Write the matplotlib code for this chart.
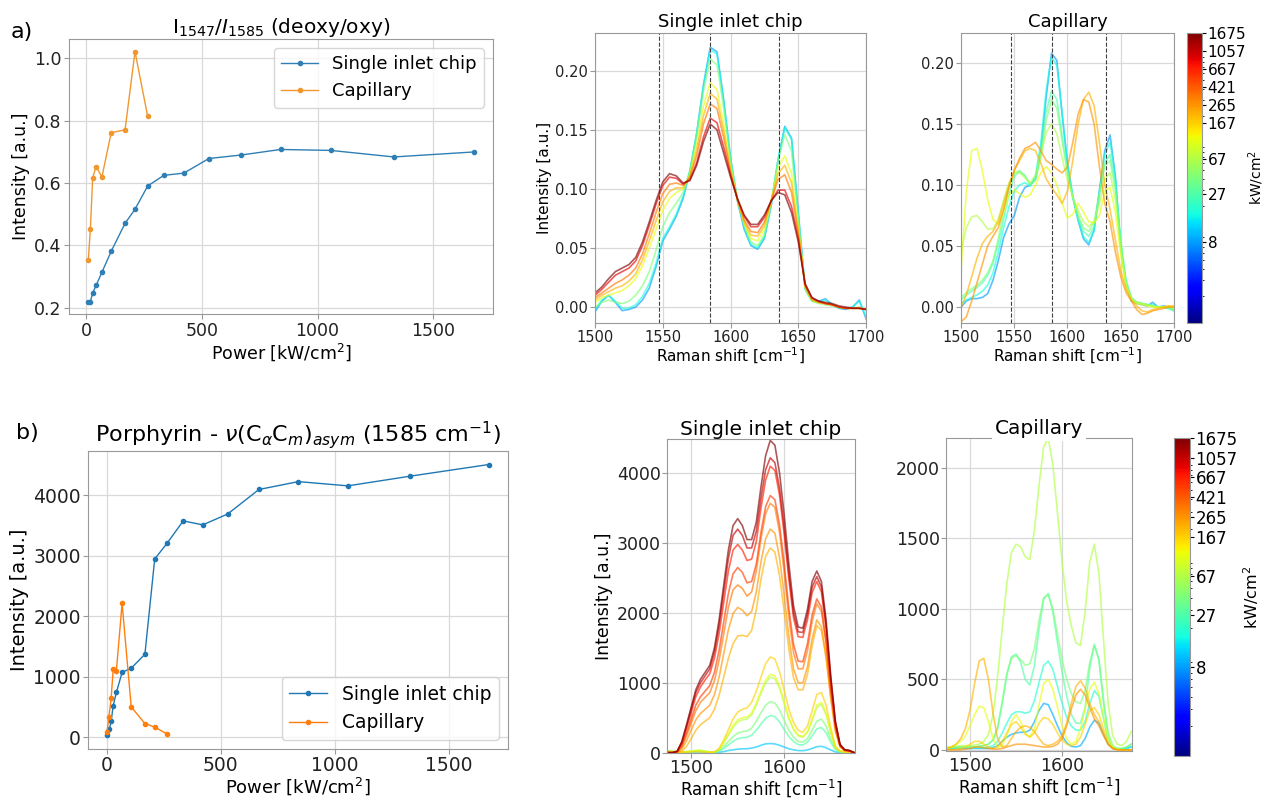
import matplotlib.pyplot as plt
import numpy as np
from matplotlib.colors import LogNorm
from matplotlib.cm import ScalarMappable
from matplotlib.ticker import NullFormatter

# ---------------- a) band ratio vs power ----------------
ratio_power_chip = [8, 17, 27, 42, 67, 107, 167, 210, 265, 335, 421, 530, 667, 840, 1057, 1330, 1675]
ratio_chip = [0.220, 0.220, 0.248, 0.272, 0.314, 0.381, 0.471, 0.516, 0.591, 0.625,
              0.632, 0.679, 0.690, 0.708, 0.705, 0.684, 0.700]
ratio_power_cap = [8, 17, 27, 42, 67, 107, 167, 210, 265]
ratio_cap = [0.352, 0.454, 0.618, 0.653, 0.620, 0.762, 0.771, 1.022, 0.814]

# ---------------- b) 1585 band intensity vs power ----------------
int_power_chip = [2, 11, 19, 28, 42, 67, 107, 167, 210, 265, 335, 421, 530, 667, 840, 1057, 1330, 1675]
int_chip = [28, 130, 260, 520, 740, 1070, 1140, 1370, 2945, 3210, 3575, 3510, 3690, 4095,
            4225, 4155, 4315, 4508]
int_power_cap = [1, 9, 19, 28, 42, 67, 107, 167, 210, 265]
int_cap = [90, 330, 640, 1120, 1100, 2210, 500, 225, 165, 50]

# ---------------- normalised spectra (top row), 1500..1700 step 5 ----------------
shift_top = np.arange(1500, 1701, 5)
marker_lines = [1547, 1585, 1636]

nchip_8 = [-0.004, 0.005, 0.010, 0.004, -0.003, -0.002, 0.000, 0.006, 0.016, 0.034,
           0.056, 0.066, 0.077, 0.092, 0.115, 0.147, 0.188, 0.220, 0.216, 0.175,
           0.126, 0.090, 0.066, 0.052, 0.049, 0.058, 0.086, 0.124, 0.153, 0.143,
           0.080, 0.016, 0.006, 0.005, 0.007, 0.002, -0.001, -0.002, 0.000, 0.006,
           -0.010]
nchip_17 = [-0.002, 0.006, 0.010, 0.005, -0.001, -0.001, 0.002, 0.009, 0.020, 0.037,
            0.058, 0.068, 0.079, 0.094, 0.116, 0.147, 0.187, 0.218, 0.214, 0.173,
            0.125, 0.091, 0.068, 0.053, 0.050, 0.060, 0.088, 0.125, 0.152, 0.142,
            0.078, 0.015, 0.005, 0.004, 0.006, 0.002, -0.001, -0.001, 0.000, 0.005,
            -0.008]
nchip_42 = [0.000, 0.004, 0.006, 0.004, 0.003, 0.005, 0.010, 0.018, 0.030, 0.048,
            0.068, 0.080, 0.088, 0.097, 0.115, 0.145, 0.183, 0.210, 0.205, 0.168,
            0.124, 0.092, 0.070, 0.055, 0.052, 0.061, 0.088, 0.124, 0.146, 0.132,
            0.075, 0.015, 0.005, 0.003, 0.002, 0.001, 0.000, -0.001, -0.001, 0.000,
            -0.002]
nchip_107 = [0.004, 0.008, 0.010, 0.012, 0.014, 0.018, 0.024, 0.035, 0.050, 0.066,
             0.082, 0.092, 0.097, 0.100, 0.112, 0.138, 0.170, 0.190, 0.184, 0.155,
             0.118, 0.091, 0.071, 0.058, 0.056, 0.066, 0.090, 0.118, 0.128, 0.113,
             0.068, 0.017, 0.006, 0.004, 0.003, 0.002, 0.000, -0.001, -0.001, -0.001,
             -0.002]
nchip_210 = [0.006, 0.010, 0.013, 0.016, 0.018, 0.022, 0.028, 0.040, 0.056, 0.073,
             0.089, 0.098, 0.101, 0.101, 0.111, 0.133, 0.162, 0.181, 0.176, 0.149,
             0.116, 0.091, 0.072, 0.061, 0.060, 0.069, 0.090, 0.113, 0.120, 0.105,
             0.065, 0.017, 0.006, 0.004, 0.003, 0.002, 0.000, -0.001, -0.001, -0.001,
             -0.002]
nchip_335 = [0.008, 0.012, 0.016, 0.020, 0.023, 0.027, 0.033, 0.045, 0.062, 0.080,
             0.096, 0.104, 0.105, 0.103, 0.110, 0.128, 0.155, 0.172, 0.168, 0.143,
             0.114, 0.091, 0.074, 0.064, 0.063, 0.072, 0.090, 0.108, 0.112, 0.097,
             0.062, 0.018, 0.007, 0.004, 0.003, 0.002, 0.000, -0.001, -0.001, -0.001,
             -0.002]
nchip_840 = [0.010, 0.015, 0.021, 0.027, 0.030, 0.033, 0.039, 0.052, 0.069, 0.087,
             0.103, 0.110, 0.109, 0.104, 0.108, 0.122, 0.144, 0.160, 0.156, 0.135,
             0.112, 0.092, 0.077, 0.068, 0.068, 0.076, 0.090, 0.099, 0.099, 0.085,
             0.058, 0.019, 0.008, 0.005, 0.003, 0.002, 0.000, -0.001, -0.001, -0.001,
             -0.002]
nchip_1675 = [0.012, 0.017, 0.024, 0.030, 0.033, 0.036, 0.042, 0.055, 0.072, 0.090,
              0.106, 0.113, 0.111, 0.105, 0.107, 0.120, 0.140, 0.155, 0.150, 0.130,
              0.110, 0.092, 0.078, 0.070, 0.070, 0.078, 0.090, 0.097, 0.095, 0.080,
              0.055, 0.020, 0.008, 0.005, 0.004, 0.003, 0.001, 0.000, -0.001, -0.001,
              -0.002]

ncap_8 = [0.000, 0.005, 0.007, 0.007, 0.008, 0.011, 0.022, 0.038, 0.057, 0.068,
          0.075, 0.090, 0.098, 0.100, 0.105, 0.128, 0.172, 0.208, 0.202, 0.158,
          0.117, 0.090, 0.071, 0.056, 0.051, 0.063, 0.096, 0.128, 0.141, 0.107,
          0.049, 0.019, 0.005, 0.003, 0.002, 0.001, 0.004, 0.000, 0.001, 0.000,
          -0.002]
ncap_17 = [0.003, 0.006, 0.008, 0.010, 0.013, 0.018, 0.028, 0.045, 0.065, 0.082,
           0.095, 0.100, 0.102, 0.099, 0.108, 0.135, 0.178, 0.205, 0.198, 0.158,
           0.118, 0.091, 0.072, 0.058, 0.053, 0.063, 0.094, 0.125, 0.135, 0.105,
           0.052, 0.020, 0.007, 0.004, 0.003, 0.002, 0.002, 0.000, 0.000, -0.001,
           -0.003]
ncap_27 = [0.006, 0.010, 0.013, 0.016, 0.020, 0.026, 0.036, 0.052, 0.072, 0.092,
           0.107, 0.111, 0.108, 0.100, 0.106, 0.128, 0.160, 0.177, 0.170, 0.140,
           0.112, 0.090, 0.073, 0.062, 0.058, 0.066, 0.092, 0.118, 0.125, 0.100,
           0.055, 0.022, 0.008, 0.004, 0.003, 0.002, 0.001, 0.000, 0.000, -0.001,
           -0.003]
ncap_42 = [0.008, 0.012, 0.015, 0.018, 0.022, 0.028, 0.038, 0.056, 0.078, 0.098,
           0.110, 0.112, 0.107, 0.100, 0.104, 0.122, 0.153, 0.170, 0.163, 0.136,
           0.110, 0.090, 0.075, 0.065, 0.062, 0.070, 0.093, 0.116, 0.120, 0.096,
           0.052, 0.020, 0.007, 0.004, 0.003, 0.002, 0.001, 0.000, 0.000, 0.000,
           -0.002]
ncap_67 = [0.045, 0.065, 0.074, 0.075, 0.070, 0.064, 0.064, 0.072, 0.088, 0.102,
           0.110, 0.110, 0.106, 0.102, 0.108, 0.125, 0.143, 0.150, 0.142, 0.122,
           0.104, 0.090, 0.079, 0.070, 0.066, 0.070, 0.085, 0.105, 0.110, 0.088,
           0.048, 0.018, 0.007, 0.004, 0.003, 0.002, 0.001, 0.000, 0.000, 0.000,
           -0.002]
ncap_107 = [0.030, 0.095, 0.128, 0.130, 0.112, 0.088, 0.072, 0.068, 0.078, 0.092,
            0.096, 0.093, 0.090, 0.092, 0.100, 0.110, 0.115, 0.110, 0.100, 0.085,
            0.073, 0.076, 0.085, 0.078, 0.070, 0.069, 0.075, 0.095, 0.098, 0.078,
            0.043, 0.017, 0.006, 0.003, 0.002, 0.001, 0.000, 0.000, 0.000, 0.001,
            0.000]
ncap_210 = [0.000, 0.010, 0.025, 0.040, 0.052, 0.058, 0.062, 0.070, 0.085, 0.100,
            0.112, 0.120, 0.128, 0.130, 0.128, 0.118, 0.105, 0.098, 0.092, 0.085,
            0.095, 0.120, 0.150, 0.170, 0.176, 0.165, 0.135, 0.100, 0.080, 0.055,
            0.030, 0.015, 0.006, 0.001, -0.003, -0.004, -0.002, -0.001, 0.000, 0.001,
            0.001]
ncap_265 = [-0.012, -0.008, 0.005, 0.020, 0.035, 0.050, 0.058, 0.065, 0.080, 0.098,
            0.112, 0.122, 0.130, 0.132, 0.135, 0.128, 0.120, 0.117, 0.113, 0.110,
            0.115, 0.135, 0.158, 0.170, 0.168, 0.150, 0.115, 0.085, 0.070, 0.045,
            0.025, 0.012, 0.005, -0.002, -0.006, -0.005, -0.003, -0.002, -0.001, 0.000,
            0.000]

# ---------------- raw spectra (bottom row), 1475..1675 step 5 ----------------
shift_bot = np.arange(1475, 1676, 5)

rchip_1675 = [0, 0, 20, 160, 400, 650, 900, 1050, 1150, 1250,
              1500, 1900, 2400, 2900, 3250, 3350, 3250, 3050, 3050, 3300,
              3800, 4250, 4470, 4400, 4000, 3400, 2700, 2100, 1800, 1780,
              2050, 2450, 2600, 2450, 1900, 1100, 450, 120, 40, 30, 0]
rchip_1057 = [0, 0, 20, 150, 380, 620, 860, 1000, 1100, 1200,
              1440, 1820, 2300, 2780, 3110, 3200, 3110, 2930, 2930, 3170,
              3640, 4050, 4220, 4150, 3780, 3220, 2560, 2000, 1730, 1720,
              1980, 2370, 2520, 2370, 1830, 1060, 430, 110, 40, 30, 0]
rchip_667 = [0, 0, 15, 130, 340, 570, 800, 940, 1040, 1130,
             1350, 1700, 2150, 2600, 2900, 2980, 2900, 2750, 2770, 3020,
             3500, 3900, 4100, 4040, 3680, 3120, 2480, 1930, 1660, 1650,
             1900, 2290, 2450, 2300, 1780, 1030, 420, 110, 40, 30, 0]
rchip_530 = [0, 0, 10, 100, 280, 480, 680, 800, 880, 960,
             1150, 1460, 1870, 2280, 2560, 2650, 2580, 2430, 2450, 2700,
             3150, 3520, 3680, 3620, 3260, 2700, 2060, 1550, 1310, 1300,
             1560, 1970, 2200, 2080, 1600, 920, 370, 100, 35, 25, 0]
rchip_335 = [0, 0, 10, 80, 240, 420, 600, 720, 790, 860,
             1030, 1320, 1700, 2080, 2330, 2400, 2350, 2240, 2300, 2600,
             3060, 3420, 3570, 3510, 3150, 2580, 1940, 1430, 1200, 1200,
             1460, 1880, 2130, 2020, 1560, 900, 360, 100, 35, 25, 0]
rchip_265 = [0, 0, 5, 50, 170, 320, 470, 560, 620, 680,
             830, 1080, 1420, 1760, 1990, 2080, 2040, 1960, 2020, 2300,
             2730, 3060, 3200, 3140, 2790, 2250, 1660, 1200, 1000, 1000,
             1230, 1630, 1900, 1800, 1390, 800, 320, 90, 30, 20, 0]
rchip_210 = [0, 0, 0, 20, 90, 200, 320, 400, 450, 500,
             620, 820, 1080, 1350, 1560, 1670, 1680, 1660, 1750, 2050,
             2480, 2810, 2930, 2870, 2530, 2020, 1480, 1070, 900, 900,
             1120, 1530, 1820, 1750, 1350, 780, 300, 80, 25, 15, 0]
rchip_167 = [10, 10, 5, 5, 5, 10, 15, 10, 5, 5,
             10, 60, 180, 330, 480, 580, 620, 640, 720, 880,
             1080, 1270, 1370, 1340, 1160, 890, 620, 430, 320, 290,
             380, 600, 830, 860, 680, 360, 90, 20, 10, 5, 0]
rchip_107 = [20, 15, 10, 10, 15, 20, 30, 30, 20, 10,
             10, 50, 150, 270, 390, 470, 500, 510, 570, 710,
             880, 1040, 1120, 1100, 950, 730, 500, 340, 250, 230,
             300, 480, 680, 720, 570, 300, 80, 20, 10, 5, 0]
rchip_67 = [30, 20, 15, 10, 15, 20, 30, 35, 20, 10,
            5, 45, 140, 250, 360, 440, 470, 480, 540, 680,
            850, 1000, 1080, 1060, 920, 700, 480, 330, 240, 220,
            290, 460, 650, 690, 540, 290, 80, 20, 10, 5, 0]
rchip_42 = [20, 15, 10, 10, 10, 15, 20, 20, 15, 10,
            5, 30, 90, 160, 230, 280, 300, 310, 350, 450,
            570, 680, 730, 710, 610, 460, 320, 220, 160, 150,
            200, 320, 450, 480, 380, 200, 60, 15, 5, 0, 0]
rchip_28 = [20, 15, 10, 10, 10, 15, 20, 20, 15, 10,
            0, 20, 60, 110, 160, 200, 215, 220, 250, 320,
            410, 490, 530, 515, 440, 330, 230, 160, 115, 110,
            150, 240, 340, 360, 285, 150, 45, 10, 5, 0, 0]
rchip_11 = [10, 10, 5, 5, 5, 10, 10, 10, 5, 5,
            0, 5, 15, 30, 40, 50, 55, 55, 65, 80,
            105, 125, 130, 125, 105, 80, 55, 40, 30, 28,
            38, 60, 85, 90, 70, 38, 10, 5, 0, 0, 0]

rcap_67 = [20, 20, 25, 30, 30, 30, 35, 40, 60, 110,
           250, 520, 860, 1180, 1400, 1460, 1440, 1370, 1350, 1560,
           1880, 2150, 2210, 2020, 1680, 1330, 1050, 880, 760, 740,
           980, 1330, 1460, 1250, 780, 330, 100, 40, 30, 60, 130]
rcap_42 = [15, 20, 20, 20, 20, 20, 20, 25, 30, 40,
           70, 160, 340, 540, 650, 670, 640, 600, 610, 720,
           920, 1080, 1100, 1000, 820, 640, 500, 400, 340, 330,
           420, 620, 740, 640, 360, 120, 30, 10, 10, 20, 40]
rcap_28 = [10, 15, 20, 20, 20, 20, 20, 25, 30, 40,
           70, 150, 330, 530, 660, 680, 620, 500, 460, 600,
           860, 1070, 1110, 980, 760, 550, 380, 250, 190, 190,
           300, 580, 750, 640, 330, 100, 20, 10, 10, 20, 40]
rcap_19 = [10, 10, 15, 15, 15, 15, 15, 15, 15, 20,
           30, 60, 120, 190, 250, 270, 270, 260, 270, 350,
           480, 600, 630, 570, 450, 330, 230, 170, 140, 140,
           200, 330, 420, 380, 220, 70, 15, 5, 5, 10, 20]
rcap_9 = [10, 10, 10, 10, 10, 10, 10, 10, 10, 10,
          15, 30, 60, 90, 110, 120, 125, 125, 140, 200,
          280, 330, 320, 250, 170, 100, 50, 25, 20, 30,
          80, 160, 210, 190, 110, 40, 10, 5, 5, 10, 20]
rcap_107 = [10, 20, 40, 60, 100, 170, 250, 310, 300, 200,
            80, 20, 30, 100, 200, 250, 200, 120, 90, 150,
            320, 470, 500, 430, 300, 170, 80, 40, 60, 150,
            290, 430, 480, 400, 230, 80, 20, 5, 0, 0, 0]
rcap_167 = [0, 0, 5, 10, 20, 40, 60, 60, 40, 20,
            10, 20, 60, 120, 180, 200, 160, 110, 90, 120,
            190, 230, 220, 180, 120, 70, 40, 30, 40, 90,
            180, 280, 300, 250, 150, 50, 10, 0, 0, 0, 0]
rcap_210 = [10, 20, 40, 80, 150, 280, 470, 630, 650, 500,
            260, 80, 20, 30, 80, 130, 160, 170, 160, 130,
            80, 40, 30, 40, 60, 100, 190, 330, 450, 490,
            440, 330, 250, 200, 120, 40, 10, 0, 0, 0, 0]
rcap_265 = [0, 0, 0, 0, 5, 10, 20, 20, 15, 10,
            5, 5, 10, 20, 30, 40, 40, 40, 35, 30,
            25, 20, 20, 25, 40, 80, 170, 290, 390, 430,
            390, 300, 220, 170, 100, 40, 10, 0, 0, 0, 0]

cbar_ticks = [8, 27, 67, 167, 265, 421, 667, 1057, 1675]

top_chip = [(8, nchip_8), (17, nchip_17), (42, nchip_42), (107, nchip_107),
            (210, nchip_210), (335, nchip_335), (840, nchip_840), (1675, nchip_1675)]
top_cap = [(8, ncap_8), (17, ncap_17), (27, ncap_27), (42, ncap_42), (67, ncap_67),
           (107, ncap_107), (210, ncap_210), (265, ncap_265)]
bot_chip = [(11, rchip_11), (28, rchip_28), (42, rchip_42), (67, rchip_67),
            (107, rchip_107), (167, rchip_167), (210, rchip_210), (265, rchip_265),
            (335, rchip_335), (530, rchip_530), (667, rchip_667), (1057, rchip_1057),
            (1675, rchip_1675)]
bot_cap = [(9, rcap_9), (19, rcap_19), (28, rcap_28), (42, rcap_42), (67, rcap_67),
           (107, rcap_107), (167, rcap_167), (210, rcap_210), (265, rcap_265)]

norm = LogNorm(vmin=1, vmax=1675)
cmap = plt.get_cmap('jet')
SPINE = '0.6'
GRID = '#d9d9d9'


def style(ax, tick_fs, pad=2):
    ax.grid(True, color=GRID, lw=0.9)
    ax.set_axisbelow(True)
    for s in ax.spines.values():
        s.set_color(SPINE)
    ax.tick_params(labelsize=tick_fs, color=SPINE, colors='#222222', pad=pad)


def spectra(ax, x, curves):
    for p, y in curves:
        ax.plot(x, y, color=cmap(norm(p)), alpha=0.65, lw=1.2)


def add_cbar(rect, tick_fs, label_fs, label_pad):
    cax = fig.add_axes(rect)
    cb = fig.colorbar(ScalarMappable(norm=norm, cmap=cmap), cax=cax)
    cb.set_ticks(cbar_ticks, labels=[str(t) for t in cbar_ticks])
    cax.yaxis.set_minor_formatter(NullFormatter())
    cb.outline.set_edgecolor(SPINE)
    cax.tick_params(which='major', labelsize=tick_fs, length=3, pad=1)
    cax.tick_params(which='minor', length=1.5)
    cb.set_label(r'kW/cm$^2$', fontsize=label_fs, labelpad=label_pad)


fig = plt.figure(figsize=(12.69, 7.99), dpi=100)

# ---- a) left
ax = fig.add_axes([0.0544, 0.607, 0.334, 0.344])
ax.plot(ratio_power_chip, ratio_chip, '.-', color='#2f7fb5', lw=1.0, ms=6, label='Single inlet chip')
ax.plot(ratio_power_cap, ratio_cap, '.-', color='#f0982e', lw=1.0, ms=6, label='Capillary')
style(ax, 12.5)
ax.set_xticks([0, 500, 1000, 1500])
ax.set_title(r'I$_{1547}$/$I_{1585}$ (deoxy/oxy)', fontsize=14.5, pad=4)
ax.set_xlabel(r'Power [kW/cm$^2$]', fontsize=12.5, labelpad=1)
ax.set_ylabel('Intensity [a.u.]', fontsize=12.5, labelpad=3)
ax.legend(loc='upper right', fontsize=13)

# ---- a) middle / right spectra
ax = fig.add_axes([0.4689, 0.5957, 0.2136, 0.3630])
spectra(ax, shift_top, top_chip)
for v in marker_lines:
    ax.axvline(v, color='0.25', ls='--', lw=0.8)
style(ax, 10.5, pad=1.5)
ax.set_xlim(1500, 1700)
ax.set_ylim(-0.0135, 0.232)
ax.set_xticks([1500, 1550, 1600, 1650, 1700])
ax.set_yticks([0.0, 0.05, 0.10, 0.15, 0.20])
ax.set_title('Single inlet chip', fontsize=13, pad=4)
ax.set_xlabel(r'Raman shift [cm$^{-1}$]', fontsize=11, labelpad=1)
ax.set_ylabel('Intensity [a.u.]', fontsize=11, labelpad=2)

ax = fig.add_axes([0.7573, 0.5957, 0.1678, 0.3630])
spectra(ax, shift_top, top_cap)
for v in marker_lines:
    ax.axvline(v, color='0.25', ls='--', lw=0.8)
style(ax, 10.5, pad=1.5)
ax.set_xlim(1500, 1700)
ax.set_ylim(-0.013, 0.2245)
ax.set_xticks([1500, 1550, 1600, 1650, 1700])
ax.set_yticks([0.0, 0.05, 0.10, 0.15, 0.20])
ax.set_title('Capillary', fontsize=13, pad=4)
ax.set_xlabel(r'Raman shift [cm$^{-1}$]', fontsize=11, labelpad=1)

add_cbar([0.9354, 0.5957, 0.0118, 0.3630], 11, 10, 0)

# ---- b) left
ax = fig.add_axes([0.0693, 0.0626, 0.331, 0.373])
ax.plot(int_power_chip, int_chip, '.-', color='#1f77b4', lw=1.0, ms=6, label='Single inlet chip')
ax.plot(int_power_cap, int_cap, '.-', color='#ff7f0e', lw=1.0, ms=6, label='Capillary')
style(ax, 13.5, pad=1.5)
ax.set_title(r'Porphyrin - $\nu(\mathrm{C}_{\alpha}\mathrm{C}_{m})_{asym}$ (1585 cm$^{-1}$)',
             fontsize=16, pad=6)
ax.set_xlabel(r'Power [kW/cm$^2$]', fontsize=13, labelpad=0)
ax.set_ylabel('Intensity [a.u.]', fontsize=14, labelpad=3)
ax.legend(loc='lower right', fontsize=13.5)

# ---- b) middle / right spectra
ax = fig.add_axes([0.5256, 0.0576, 0.1481, 0.3930])
spectra(ax, shift_bot, bot_chip)
style(ax, 12.5, pad=1)
ax.set_xlim(1474, 1676)
ax.set_ylim(-5, 4490)
ax.set_xticks([1500, 1600])
ax.set_yticks([0, 1000, 2000, 3000, 4000])
ax.set_title('Single inlet chip', fontsize=14.5, pad=2)
ax.set_xlabel(r'Raman shift [cm$^{-1}$]', fontsize=12, labelpad=0)
ax.set_ylabel('Intensity [a.u.]', fontsize=12.5, labelpad=3)

ax = fig.add_axes([0.7455, 0.0601, 0.1466, 0.3917])
spectra(ax, shift_bot, bot_cap)
style(ax, 12.5, pad=1)
ax.set_xlim(1474, 1676)
ax.set_ylim(-8, 2213)
ax.set_xticks([1500, 1600])
ax.set_yticks([0, 500, 1000, 1500, 2000])
ax.set_title('Capillary', fontsize=14.5, pad=1,
             bbox=dict(facecolor='white', edgecolor='none', pad=2))
ax.set_xlabel(r'Raman shift [cm$^{-1}$]', fontsize=12, labelpad=0)

add_cbar([0.9251, 0.0538, 0.0126, 0.398], 12, 11.5, 3)

# panel letters
fig.text(0.008, 0.960, 'a)', fontsize=16, va='center')
fig.text(0.013, 0.458, 'b)', fontsize=16, va='center')

fig.savefig('out.png', dpi=100)
